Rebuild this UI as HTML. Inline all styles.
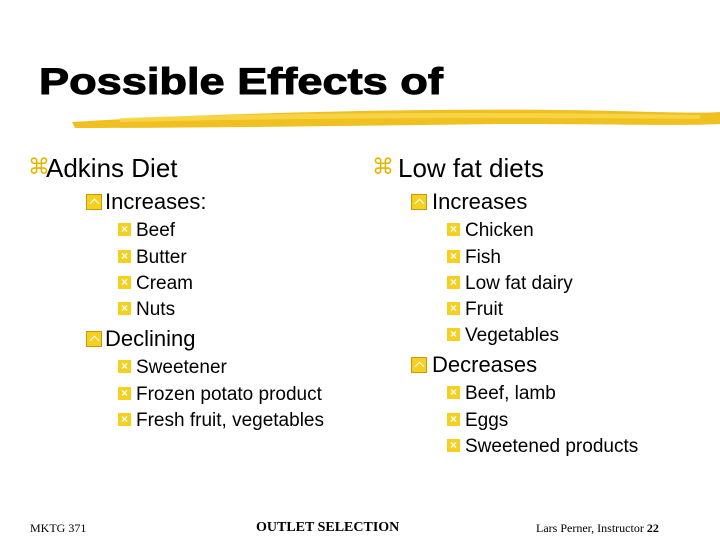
<!DOCTYPE html>
<html><head><meta charset="utf-8"><style>
body{margin:0;width:720px;height:540px;background:#fff;position:relative;overflow:hidden;font-family:"Liberation Sans",sans-serif;}
.t{position:absolute;white-space:nowrap;color:#000;line-height:1;}
.l1{font-size:26px;}
.l2{font-size:22px;}
.l3{font-size:19px;}
.b1{position:absolute;color:#e8b400;font-size:22px;line-height:1;}
.b2{position:absolute;width:16px;height:16px;background:#f5d020;border:1px solid #c99a00;box-sizing:border-box;}
.b2::after{content:"";position:absolute;left:4px;top:5px;width:6px;height:6px;border-left:1.5px solid #fff;border-top:1.5px solid #fff;transform:rotate(45deg);}
.b3{position:absolute;width:13px;height:13px;background:#f5d020;box-sizing:border-box;color:#fff;font-size:12px;line-height:13px;text-align:center;font-weight:bold;}
.f{position:absolute;font-family:"Liberation Serif",serif;font-size:12px;top:521px;}
</style></head><body>
<div class="t" style="left:39px;top:63px;font-size:37px;font-weight:bold;transform:scaleX(1.22);transform-origin:left top;-webkit-text-stroke:1px #000;">Possible Effects of</div>
<svg width="720" height="40" style="position:absolute;left:0;top:100px">
<path d="M72,22 C200,14 400,8 560,10 C640,11 700,14 720,12 L720,24 C680,26 600,24 500,24 C350,26 200,28 75,28 Z" fill="#f0c020"/>
<path d="M120,18 C300,12 500,12 700,15 L700,19 C500,17 300,18 120,22 Z" fill="#f8d850" opacity="0.8"/>
</svg>

<div class="b1" style="left:28px;top:156px">⌘</div>
<div class="t l1" style="left:46px;top:155px">Adkins Diet</div>
<div class="b2" style="left:86px;top:194px"></div>
<div class="t l2" style="left:105px;top:191px">Increases:</div>
<div class="b3" style="left:118px;top:223px">×</div><div class="t l3" style="left:136px;top:221px">Beef</div>
<div class="b3" style="left:118px;top:250px">×</div><div class="t l3" style="left:136px;top:248px">Butter</div>
<div class="b3" style="left:118px;top:276px">×</div><div class="t l3" style="left:136px;top:274px">Cream</div>
<div class="b3" style="left:118px;top:302px">×</div><div class="t l3" style="left:136px;top:300px">Nuts</div>
<div class="b2" style="left:86px;top:331px"></div>
<div class="t l2" style="left:105px;top:328px">Declining</div>
<div class="b3" style="left:118px;top:360px">×</div><div class="t l3" style="left:136px;top:358px">Sweetener</div>
<div class="b3" style="left:118px;top:387px">×</div><div class="t l3" style="left:136px;top:385px">Frozen potato product</div>
<div class="b3" style="left:118px;top:413px">×</div><div class="t l3" style="left:136px;top:411px">Fresh fruit, vegetables</div>

<div class="b1" style="left:372px;top:156px">⌘</div>
<div class="t l1" style="left:398px;top:155px">Low fat diets</div>
<div class="b2" style="left:411px;top:194px"></div>
<div class="t l2" style="left:432px;top:191px">Increases</div>
<div class="b3" style="left:447px;top:223px">×</div><div class="t l3" style="left:465px;top:221px">Chicken</div>
<div class="b3" style="left:447px;top:250px">×</div><div class="t l3" style="left:465px;top:248px">Fish</div>
<div class="b3" style="left:447px;top:276px">×</div><div class="t l3" style="left:465px;top:274px">Low fat dairy</div>
<div class="b3" style="left:447px;top:302px">×</div><div class="t l3" style="left:465px;top:300px">Fruit</div>
<div class="b3" style="left:447px;top:328px">×</div><div class="t l3" style="left:465px;top:326px">Vegetables</div>
<div class="b2" style="left:411px;top:357px"></div>
<div class="t l2" style="left:432px;top:354px">Decreases</div>
<div class="b3" style="left:447px;top:386px">×</div><div class="t l3" style="left:465px;top:384px">Beef, lamb</div>
<div class="b3" style="left:447px;top:413px">×</div><div class="t l3" style="left:465px;top:411px">Eggs</div>
<div class="b3" style="left:447px;top:439px">×</div><div class="t l3" style="left:465px;top:437px">Sweetened products</div>

<div class="f" style="left:30px">MKTG 371</div>
<div class="f" style="left:256px;font-size:14px;font-weight:bold;top:520px">OUTLET SELECTION</div>
<div class="f" style="left:536px">Lars Perner, Instructor <b>22</b></div>
</body></html>
